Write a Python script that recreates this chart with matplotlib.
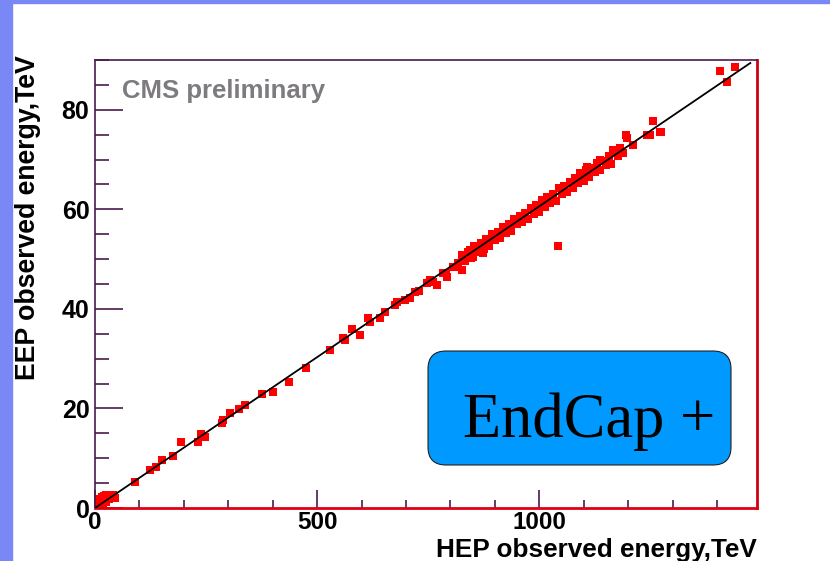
import numpy as np
import matplotlib.pyplot as plt
from matplotlib.patches import FancyBboxPatch, Rectangle
from matplotlib.ticker import MultipleLocator

# HEP vs EEP observed energy per event, TeV
hep_low = [2, 4, 5, 6, 8, 9, 10, 12, 13, 14, 16, 17, 18, 20, 22, 24, 25, 28, 30, 32, 33, 36, 40, 44]
eep_low = [0.2, 0.6, 0.3, 1.0, 1.5, 0.5, 0.8, 1.8, 0.9, 1.2, 2.2, 1.1, 2.0, 2.5, 1.6, 1.3, 2.6, 2.4, 2.0, 1.8, 2.7, 2.3, 2.6, 2.0]

hep_mid = [90, 124, 137, 151, 176, 193, 232, 238, 247, 286, 288, 304, 324, 337, 376, 400, 436, 475,
           529, 558, 562, 578, 596, 614, 619, 641, 652, 675, 679, 697, 709, 720, 730, 747, 754,
           760, 769, 783, 790, 792, 805, 810, 817, 826, 844, 850, 866, 873, 882]
eep_mid = [5.2, 7.6, 8.2, 9.6, 10.5, 13.3, 13.3, 14.9, 14.3, 17.1, 17.7, 19.1, 19.9, 20.7, 22.9, 23.3, 25.3, 28.1,
           31.8, 34.2, 33.8, 36.0, 34.8, 38.2, 37.4, 38.2, 39.4, 40.8, 41.4, 41.8, 42.2, 43.4, 43.5, 45.2, 45.8,
           45.4, 44.8, 47.2, 47.2, 46.4, 48.4, 48.5, 49.2, 47.8, 51.9, 50.5, 52.5, 51.3, 53.9]

# dense band, upper and lower edges
hep_up = [825, 840, 853, 868, 880, 893, 906, 918, 931, 944, 956, 968, 981, 993,
          1006, 1018, 1031, 1044, 1056, 1068, 1081, 1094, 1106, 1118, 1131, 1144, 1156, 1170]
eep_up = [50.8, 51.4, 52.6, 53.2, 54.0, 55.1, 55.4, 56.4, 57.0, 58.1, 58.6, 59.2, 60.3, 60.8,
          61.8, 62.4, 63.0, 64.2, 64.6, 65.5, 66.2, 66.7, 67.9, 68.4, 69.3, 69.8, 70.8, 71.8]
hep_dn = [832, 846, 860, 875, 887, 900, 912, 925, 937, 950, 962, 975, 987, 1000,
          1012, 1025, 1037, 1050, 1062, 1075, 1087, 1100, 1112, 1125, 1137, 1150, 1162, 1178]
eep_dn = [49.6, 50.2, 51.5, 52.1, 52.6, 53.8, 54.3, 55.3, 55.7, 57.0, 57.4, 58.1, 59.1, 59.4,
          60.5, 61.2, 61.7, 63.0, 63.4, 64.3, 65.2, 65.6, 66.5, 67.6, 67.9, 68.9, 69.2, 70.7]

hep_high = [850, 900, 950, 1000, 1041, 1050, 1091, 1100, 1107, 1120, 1136, 1150, 1152, 1165, 1181, 1188,
            1195, 1197, 1210, 1242, 1249, 1255, 1271, 1273, 1406, 1422, 1440]
eep_high = [51.5, 54.6, 57.5, 60.6, 52.7, 63.6, 67.3, 66.7, 68.5, 67.9, 70.0, 69.7, 69.3, 72.0, 72.4, 71.4,
            75.0, 74.4, 73.0, 75.0, 75.0, 77.8, 75.6, 75.6, 87.8, 85.6, 88.6]

fit_x = [0, 1475]
fit_y = [0.0, 89.4]

hep = hep_low + hep_mid + hep_up + hep_dn + hep_high
eep = eep_low + eep_mid + eep_up + eep_dn + eep_high

plt.rcParams['font.family'] = ['Liberation Sans', 'DejaVu Sans']
plt.rcParams['font.weight'] = 'bold'

fig = plt.figure(figsize=(8.30, 5.61), dpi=100)
fig.patch.set_facecolor('white')

# slide decoration strips
fig.patches.append(Rectangle((0, 0), 12/830, 1, transform=fig.transFigure, color='#7a88f6', zorder=0))
fig.patches.append(Rectangle((0, 1 - 3/561), 1, 3/561, transform=fig.transFigure, color='#7a88f6', zorder=0))

ax = fig.add_axes([95/830, 53/561, 662/830, 448/561])
ax.plot(hep, eep, 's', color='#ff0000', markersize=5.6, markeredgewidth=0, zorder=2)
ax.plot(fit_x, fit_y, color='black', lw=1.3, zorder=3)

ax.set_xlim(0, 1490)
ax.set_ylim(0, 90)
ax.xaxis.set_major_locator(MultipleLocator(500))
ax.xaxis.set_minor_locator(MultipleLocator(100))
ax.yaxis.set_major_locator(MultipleLocator(20))
ax.yaxis.set_minor_locator(MultipleLocator(5))

tick_col = '#4a1a4e'
ax.tick_params(axis='both', which='major', direction='in', colors=tick_col, labelcolor='black', labelsize=18)
ax.tick_params(axis='y', which='major', length=20, width=1.2, pad=4)
ax.tick_params(axis='y', which='minor', direction='in', length=10, width=1.2, color=tick_col)
ax.tick_params(axis='x', which='major', length=13, width=1.2, pad=2, labelsize=17.5)
ax.tick_params(axis='x', which='minor', direction='in', length=6, width=1.2, color=tick_col)

ax.spines['left'].set_color(tick_col)
ax.spines['top'].set_color(tick_col)
ax.spines['left'].set_linewidth(1.2)
ax.spines['top'].set_linewidth(1.2)
ax.spines['bottom'].set_color('#e00010')
ax.spines['right'].set_color('#d00010')
ax.spines['bottom'].set_linewidth(2)
ax.spines['right'].set_linewidth(2)

fig.text(757/830, 1 - 557/561, 'HEP observed energy,TeV', ha='right', va='baseline',
         fontsize=18.8, fontweight='bold')
fig.text(28/830, 1 - 55/561, 'EEP observed energy,TeV', ha='center', va='top',
         rotation=90, fontsize=19.2, fontweight='bold')

ax.text(122/830, 1 - 91/561, 'CMS preliminary', transform=fig.transFigure, ha='left', va='center',
        fontsize=18.5, fontweight='bold', color='#7d7a80')

# label box
box = FancyBboxPatch((4.28, 0.96), 3.03, 1.14, boxstyle='round,pad=0,rounding_size=0.18',
                     transform=fig.dpi_scale_trans, facecolor='#0099ff', edgecolor='#202020',
                     lw=0.8, zorder=5)
fig.patches.append(box)
fig.text(463/830, 1 - 437/561, 'EndCap +', ha='left', va='baseline', fontsize=45,
         fontweight='normal', family=['Liberation Serif', 'DejaVu Serif'], zorder=6)

fig.savefig('out.png', dpi=100)
